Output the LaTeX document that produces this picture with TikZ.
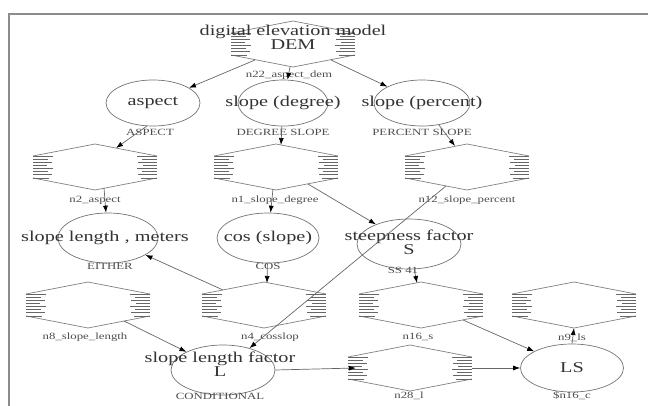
\documentclass[tikz,border=0pt]{standalone}
\usepackage{fontspec}
\setmainfont{Liberation Serif}[FakeStretch=1.35]
\usetikzlibrary{shapes.geometric,calc,arrows.meta}
\tikzset{
  ellbox/.style={ellipse, draw=black!55, line width=0.7pt, inner sep=0pt},
  bigtxt/.style={font=\fontsize{15}{13}\selectfont, text=black!80, align=center, inner sep=0pt},
  smalltxt/.style={font=\fontsize{9.5}{10}\selectfont, text=black!70, inner sep=0pt},
  hexbox/.style={rectangle, draw=none, minimum width=124pt, minimum height=46pt, inner sep=0pt},
  hexedge/.style={draw=black!50, line width=0.7pt},
  hexstack/.style={draw=black!60, line width=0.8pt},
  conn/.style={draw=black!60, line width=0.7pt, -{Latex[length=7pt,width=5pt,color=black]}},
  frameline/.style={draw=black!45, line width=1.4pt},
}
\newcommand\hexo[1]{%
  \draw[hexedge] ($(#1)+(-62,-11)$) -- ($(#1)+(0,-23)$) -- ($(#1)+(62,-11)$);
  \draw[hexedge] ($(#1)+(-62,11)$) -- ($(#1)+(0,23)$) -- ($(#1)+(62,11)$);
  \foreach \k/\l in {0/20,1/15,2/19,3/14,4/20,5/15,6/19,7/16} {
    \draw[hexstack] ($(#1)+(-62,-11+\k*3.14)$) -- ++(\l,0);
    \draw[hexstack] ($(#1)+(62,-11+\k*3.14)$) -- ++(-\l,0);
  }}
\begin{document}
\begin{tikzpicture}[x=1pt,y=-1pt]
\useasboundingbox (0,0) rectangle (648,406);
\draw[frameline] (9,406) -- (9,14) -- (648,14);

% hexagon nodes
\node[hexbox] (dem) at (293,44) {};
\node[hexbox] (n2) at (95,167) {};
\node[hexbox] (n1) at (276,167) {};
\node[hexbox] (n12) at (467,167) {};
\node[hexbox] (n8) at (88,305) {};
\node[hexbox] (n4) at (264,305) {};
\node[hexbox] (n16) at (421,305) {};
\node[hexbox] (n9) at (574,305) {};
\node[hexbox] (n28) at (410,368) {};
\hexo{dem}\hexo{n2}\hexo{n1}\hexo{n12}\hexo{n8}\hexo{n4}\hexo{n16}\hexo{n9}\hexo{n28}

% ellipse nodes
\node[ellbox, minimum width=94pt, minimum height=46pt] (asp) at (153,103) {};
\node[ellbox, minimum width=90pt, minimum height=46pt] (sdeg) at (283,103) {};
\node[ellbox, minimum width=96pt, minimum height=46pt] (sper) at (422,103) {};
\node[ellbox, minimum width=100pt, minimum height=50pt] (slm) at (108,238) {};
\node[ellbox, minimum width=102pt, minimum height=50pt] (cos) at (268,238) {};
\node[ellbox, minimum width=104pt, minimum height=50pt] (stp) at (409,244) {};
\node[ellbox, minimum width=104pt, minimum height=50pt] (Lf) at (223,370) {};
\node[ellbox, minimum width=103pt, minimum height=48pt] (LS) at (572,368) {};

% main texts
\node[bigtxt] (demT) at (293,37) {digital elevation model\\DEM};
\node[bigtxt] (aspT) at (asp) {aspect};
\node[bigtxt] (sdegT) at (sdeg) {slope (degree)};
\node[bigtxt] (sperT) at (sper) {slope (percent)};
\node[bigtxt] (slmT) at (105,238) {slope length , meters};
\node[bigtxt] (cosT) at (cos) {cos (slope)};
\node[bigtxt] (stpT) at (409,242) {steepness factor\\S};
\node[bigtxt] (LfT) at (220,364) {slope length factor\\L};
\node[bigtxt] (LST) at (LS) {LS};

% small labels
\node[smalltxt] (l22) at (289,75) {n22\_aspect\_dem};
\node[smalltxt] (lasp) at (150,132) {ASPECT};
\node[smalltxt] (ldeg) at (283,132) {DEGREE SLOPE};
\node[smalltxt] (lper) at (422,132) {PERCENT SLOPE};
\node[smalltxt] (ln2) at (95,200) {n2\_aspect};
\node[smalltxt] (ln1) at (275,200) {n1\_slope\_degree};
\node[smalltxt] (ln12) at (467,200) {n12\_slope\_percent};
\node[smalltxt] (leit) at (110,266) {EITHER};
\node[smalltxt] (lcos) at (268,266) {COS};
\node[smalltxt] (lss) at (403,270) {SS 41};
\node[smalltxt] (ln8) at (85,337) {n8\_slope\_length};
\node[smalltxt] (ln4) at (270,337) {n4\_cosslop};
\node[smalltxt] (ln16) at (418,337) {n16\_s};
\node[smalltxt] (ln9) at (572,338) {n9\_ls};
\node[smalltxt] (lcond) at (220,396) {CONDITIONAL};
\node[smalltxt] (ln28) at (409,396) {n28\_l};
\node[smalltxt] (lls) at (572,396) {\$n16\_c};

% connectors
\draw[conn] ($(dem)+(-38,16)$) -- (asp);
\draw[conn] ($(dem)+(-3,23)$) -- (sdeg);
\draw[conn] ($(dem)+(38,16)$) -- (sper);
\draw[conn] (asp.-105) -- ($(n2)+(21,-19)$);
\draw[conn] (sdeg) -- ($(n1)+(5,-22)$);
\draw[conn] (sper) -- ($(n12)+(-12,-21)$);
\draw[conn] ($(n2)+(9,21)$) -- (slm);
\draw[conn] ($(n1)+(-3,22)$) -- (cos);
\draw[conn] ($(n1)+(32,17)$) -- (stp);
\draw[conn] ($(n12)+(-21,19)$) -- (Lf);
\draw[conn] ($(n4)+(-41,-15)$) -- (slm);
\draw[conn] (cos) -- ($(n4)+(3,-22)$);
\draw[conn] (stp) -- ($(n16)+(-4,-22)$);
\draw[conn] ($(n8)+(36,16)$) -- (Lf);
\draw[conn] ($(n16)+(42,15)$) -- (LS);
\draw[conn] (Lf.east) -- ($(n28.west)+(8,0)$);
\draw[conn] (n28.east) -- (LS.west);
\draw[conn] (LS.north) -- ($(n9)+(0,23)$);
\end{tikzpicture}
\end{document}
